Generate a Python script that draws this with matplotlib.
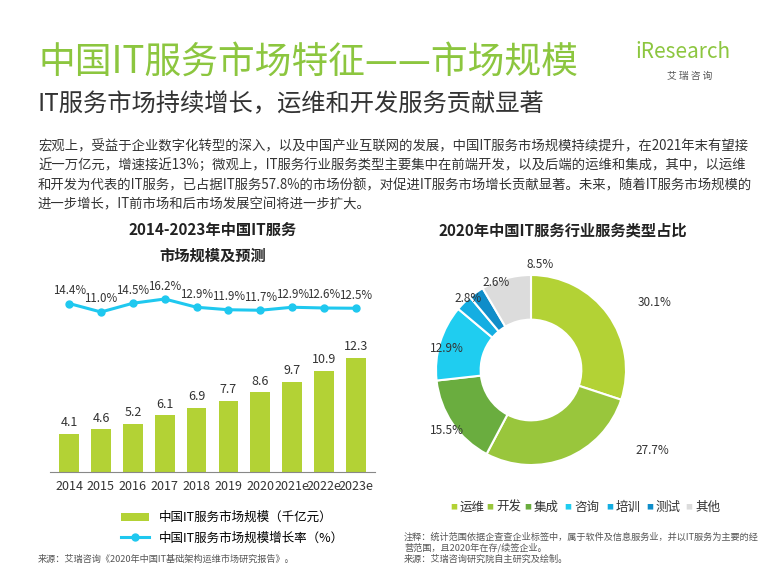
import matplotlib
matplotlib.use("Agg")
import matplotlib.pyplot as plt

plt.rcParams['font.family'] = ['Noto Sans CJK SC', 'DejaVu Sans']

years = ['2014','2015','2016','2017','2018','2019','2020','2021e','2022e','2023e']
market = [4.1,4.6,5.2,6.1,6.9,7.7,8.6,9.7,10.9,12.3]
growth = [14.4,11.0,14.5,16.2,12.9,11.9,11.7,12.9,12.6,12.5]
types = ['运维','开发','集成','咨询','培训','测试','其他']
shares = [30.1,27.7,15.5,12.9,2.8,2.6,8.5]
colors = ['#b3d235','#99c63c','#6aad3f','#1fcdf0','#14aee2','#0f8dc9','#dcdcdc']

W, H = 770, 565
fig = plt.figure(figsize=(7.7,5.65), dpi=100)
def fx(x): return x/W
def fy(y): return 1-y/H

fig.text(fx(38), fy(62), '中国IT服务市场特征——市场规模', fontsize=26.5, color='#8cc63f', va='center')
fig.text(fx(38), fy(104), 'IT服务市场持续增长，运维和开发服务贡献显著', fontsize=17.5, color='#333333', va='center')
fig.text(fx(683), fy(52), 'iResearch', fontsize=15, color='#8cc63f', va='center', ha='center')
fig.text(fx(690), fy(76), '艾 瑞 咨 询', fontsize=7, color='#555555', va='center', ha='center')
para = ['宏观上，受益于企业数字化转型的深入，以及中国产业互联网的发展，中国IT服务市场规模持续提升，在2021年末有望接',
        '近一万亿元，增速接近13%；微观上，IT服务行业服务类型主要集中在前端开发，以及后端的运维和集成，其中，以运维',
        '和开发为代表的IT服务，已占据IT服务57.8%的市场份额，对促进IT服务市场增长贡献显著。未来，随着IT服务市场规模的',
        '进一步增长，IT前市场和后市场发展空间将进一步扩大。']
for i, l in enumerate(para):
    fig.text(fx(38), fy(146+i*19.5), l, fontsize=9.6, color='#333333', va='center')

fig.text(fx(213), fy(230), '2014-2023年中国IT服务', fontsize=11, weight='bold', ha='center', va='center', color='#222')
fig.text(fx(213), fy(256), '市场规模及预测', fontsize=11, weight='bold', ha='center', va='center', color='#222')
fig.text(fx(563), fy(230), '2020年中国IT服务行业服务类型占比', fontsize=11, weight='bold', ha='center', va='center', color='#222')

# bar chart
ax = fig.add_axes([fx(50), fy(472), fx(375-50), (472-270)/H])
x = range(len(years))
bars = ax.bar(x, market, width=0.62, color='#b3d235')
for i, v in enumerate(market):
    ax.text(i, v+0.5, f'{v}', ha='center', va='bottom', fontsize=9, color='#333')
ax.set_ylim(0, 21.8)
ax.set_xlim(-0.6, len(years)-0.4)
ax.set_xticks(list(x))
ax.set_xticklabels(years, fontsize=9, color='#333')
ax.tick_params(length=0, pad=6)
ax.set_yticks([])
for s in ['top','right','left']:
    ax.spines[s].set_visible(False)
ax.spines['bottom'].set_color('#888')
ax2 = ax.twinx()
ln, = ax2.plot(x, growth, color='#1fc8ef', lw=2.2, marker='o', ms=5)
for i, v in enumerate(growth):
    ax2.text(i, v+2.6, f'{v:.1f}%', ha='center', va='bottom', fontsize=8.3, color='#333')
ax2.set_ylim(-53, 27.8)
ax2.set_yticks([])
for s in ['top','right','left','bottom']:
    ax2.spines[s].set_visible(False)
fig.legend([bars, ln], ['中国IT服务市场规模（千亿元）', '中国IT服务市场规模增长率（%）'],
           loc='upper left', bbox_to_anchor=(fx(110), fy(500)), frameon=False, fontsize=9,
           handlelength=2.2, labelspacing=0.6)

# donut
r = 95
axp = fig.add_axes([fx(531-r), fy(370+r), (2*r)/W, (2*r)/H])
axp.pie(shares, colors=colors, startangle=90, counterclock=False, radius=1,
        wedgeprops=dict(width=0.47, edgecolor='white', linewidth=1.5))
axp.set_xlim(-1, 1); axp.set_ylim(-1, 1)
axp.set_aspect('equal')
labels_pos = {0:(655,302),1:(652,450),2:(447,430),3:(447,349),4:(468,298),5:(496,283),6:(540,264)}
for i, (px, py) in labels_pos.items():
    fig.text(fx(px), fy(py), f'{shares[i]}%', fontsize=8.5, ha='center', va='center', color='#333')

lx = [460, 496, 534, 574, 616, 656, 695]
for i, t in enumerate(types):
    fig.text(fx(lx[i]-6), fy(507), '■', fontsize=5, color=colors[i], va='center', ha='center')
    fig.text(fx(lx[i]), fy(507), t, fontsize=9, va='center', color='#333')

fig.text(fx(404), fy(537), '注释：统计范围依据企查查企业标签中，属于软件及信息服务业，并以IT服务为主要的经', fontsize=6.6, color='#555', va='center')
fig.text(fx(404), fy(548), '营范围，且2020年在存/续签企业。', fontsize=6.6, color='#555', va='center')
fig.text(fx(404), fy(559), '来源：艾瑞咨询研究院自主研究及绘制。', fontsize=6.6, color='#555', va='center')
fig.text(fx(38), fy(559), '来源：艾瑞咨询《2020年中国IT基础架构运维市场研究报告》。', fontsize=6.6, color='#555', va='center')

fig.savefig('out.png', dpi=100)
